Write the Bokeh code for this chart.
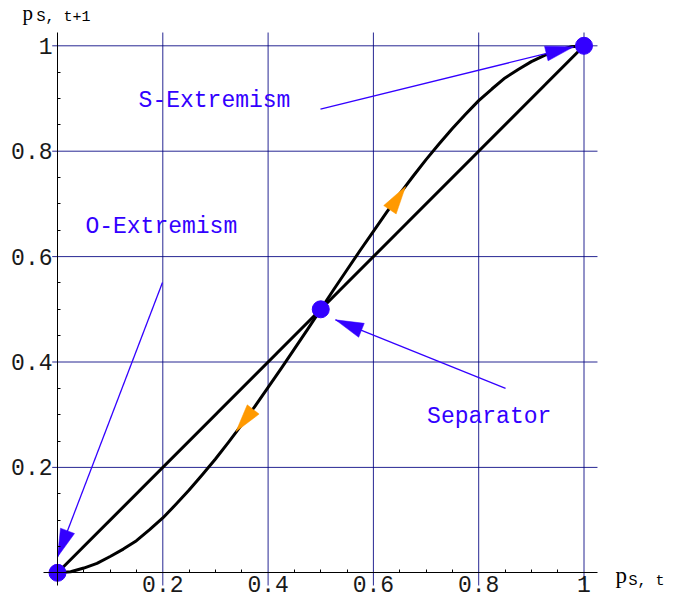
import math
from bokeh.plotting import figure
from bokeh.models import FixedTicker, CustomJSTickFormatter, Label
from bokeh.core.properties import value
from bokeh.embed import file_html
from bokeh.resources import INLINE

# ---------------- data ----------------
p_t = [0.0, 0.025, 0.05, 0.075, 0.1, 0.125, 0.15, 0.175, 0.2, 0.225, 0.25,
       0.275, 0.3, 0.325, 0.35, 0.375, 0.4, 0.425, 0.45, 0.475, 0.5,
       0.525, 0.55, 0.575, 0.6, 0.625, 0.65, 0.675, 0.7, 0.725, 0.75,
       0.775, 0.8, 0.825, 0.85, 0.875, 0.9, 0.925, 0.95, 0.975, 1.0]
p_next = [0.0, 0.002, 0.009, 0.018, 0.031, 0.045, 0.061, 0.082, 0.104, 0.13, 0.157,
          0.186, 0.216, 0.248, 0.281, 0.316, 0.352, 0.388, 0.425, 0.462, 0.5,
          0.538, 0.575, 0.612, 0.648, 0.684, 0.719, 0.752, 0.784, 0.814, 0.843,
          0.87, 0.896, 0.918, 0.939, 0.955, 0.970, 0.982, 0.991, 0.998, 1.0]
diag_x = [0.0, 1.0]
diag_y = [0.0, 1.0]
fixed_x = [0.0, 0.5, 1.0]
fixed_y = [0.0, 0.5, 1.0]

tick_values = [0.2, 0.4, 0.6, 0.8, 1.0]
tick_labels = ["0.2", "0.4", "0.6", "0.8", "1"]
minor_values = [0.05, 0.1, 0.15, 0.25, 0.3, 0.35, 0.45, 0.5, 0.55,
                0.65, 0.7, 0.75, 0.85, 0.9, 0.95]

ann_texts = ["S-Extremism", "O-Extremism", "Separator"]
ann_text_x = [0.154, 0.053, 0.702]
ann_text_y = [0.896, 0.656, 0.295]
ann_tail_x = [0.4995, 0.1994, 0.851]
ann_tail_y = [0.880, 0.551, 0.350]
ann_tip_x = [0.980, 0.0, 0.528]
ann_tip_y = [0.998, 0.030, 0.480]

flow_tail_x = [0.6306, 0.3713]
flow_tail_y = [0.6877, 0.3095]
flow_tip_x = [0.661, 0.339]
flow_tip_y = [0.733, 0.268]

# plot region (axes extent) in data units
PX0, PX1 = -0.0266, 1.0256
PY0, PY1 = -0.0241, 1.0252

# ---------------- figure ----------------
W, H = 699, 603
X0, X1 = -0.10826, 1.21937
Y0, Y1 = -0.05825, 1.08596
BLUE = "#3300ff"
ORANGE = "#ff9900"
GRID = "#000080"
MONO = "Liberation Mono"

p = figure(frame_width=W, frame_height=H, x_range=(X0, X1), y_range=(Y0, Y1),
           output_backend="svg", toolbar_location=None,
           min_border=0, min_border_left=0, min_border_right=0,
           min_border_top=0, min_border_bottom=0,
           outline_line_color=None, background_fill_color="white")

ticker = FixedTicker(ticks=tick_values, minor_ticks=minor_values)
fmt = CustomJSTickFormatter(args=dict(vals=tick_values, labs=tick_labels), code="""
for (let i = 0; i < vals.length; i++) { if (Math.abs(vals[i] - tick) < 1e-9) return labs[i]; }
return "";
""")

for ax in (p.xaxis[0], p.yaxis[0]):
    ax.fixed_location = 0
    ax.ticker = ticker
    ax.formatter = fmt
    ax.major_tick_in = 0
    ax.major_tick_out = 0
    ax.minor_tick_in = 3
    ax.minor_tick_out = 0
    ax.minor_tick_line_color = "black"
    ax.axis_line_color = "black"
    ax.axis_line_width = 1
    ax.major_label_text_font = MONO
    ax.major_label_text_font_size = "23px"
    ax.major_label_text_color = "#1a1a1a"
p.xaxis[0].bounds = (PX0, PX1)
p.yaxis[0].bounds = (PY0, PY1)
p.xaxis[0].major_label_standoff = 3
p.yaxis[0].major_label_standoff = 5

p.xgrid[0].grid_line_color = None
p.ygrid[0].grid_line_color = None

# grid lines limited to the plot region
p.segment(x0=tick_values, y0=[PY0] * len(tick_values), x1=tick_values, y1=[PY1] * len(tick_values),
          line_color=GRID, line_alpha=0.85, line_width=1)
p.segment(x0=[-0.01] * len(tick_values), y0=tick_values, x1=[PX1] * len(tick_values), y1=tick_values,
          line_color=GRID, line_alpha=0.85, line_width=1)

# curves
p.line(diag_x, diag_y, line_color="black", line_width=3)
p.line(p_t, p_next, line_color="black", line_width=3, line_join="round")

# arrowhead helper (geometry in screen pixels, converted back to data units)
SX = W / (X1 - X0)
SY = H / (Y1 - Y0)
HEAD_LEN = 28.0
HEAD_HALF = 7.5


def head(tx, ty, hx, hy):
    dx = (hx - tx) * SX
    dy = (hy - ty) * SY
    n = math.hypot(dx, dy)
    ux, uy = dx / n, dy / n
    bx = hx * SX - ux * HEAD_LEN
    by = hy * SY - uy * HEAD_LEN
    c1x, c1y = bx - uy * HEAD_HALF, by + ux * HEAD_HALF
    c2x, c2y = bx + uy * HEAD_HALF, by - ux * HEAD_HALF
    return [hx, c1x / SX, c2x / SX], [hy, c1y / SY, c2y / SY]


# annotation arrows
p.segment(ann_tail_x, ann_tail_y, ann_tip_x, ann_tip_y, line_color=BLUE, line_width=1.3)
hx_list, hy_list = [], []
for tx, ty, hx, hy in zip(ann_tail_x, ann_tail_y, ann_tip_x, ann_tip_y):
    xs, ys = head(tx, ty, hx, hy)
    hx_list.append(xs)
    hy_list.append(ys)
p.patches(hx_list, hy_list, fill_color=BLUE, line_color=BLUE, line_width=0.5)

# flow direction heads on the S-curve
ox_list, oy_list = [], []
for tx, ty, hx, hy in zip(flow_tail_x, flow_tail_y, flow_tip_x, flow_tip_y):
    xs, ys = head(tx, ty, hx, hy)
    ox_list.append(xs)
    oy_list.append(ys)
p.patches(ox_list, oy_list, fill_color=ORANGE, line_color=ORANGE, line_width=0.5)

# fixed points
p.scatter(fixed_x, fixed_y, size=17, fill_color=BLUE, line_color=BLUE)

# annotation texts
p.text(ann_text_x, ann_text_y, text=ann_texts, text_font=value(MONO),
       text_font_size="23px", text_color=BLUE, text_baseline="alphabetic", text_align="left")

# axis labels
p.add_layout(Label(x=1.0598, y=-0.005, text="p", text_font="Liberation Serif",
                   text_font_size="23px", text_color="black", text_baseline="alphabetic"))
p.add_layout(Label(x=1.0845, y=-0.0165, text="S, t", text_font=MONO,
                   text_font_size="15px", text_color="black", text_baseline="alphabetic"))
p.add_layout(Label(x=-0.0665, y=1.0855, text="p", text_font="Liberation Serif",
                   text_font_size="21px", text_color="black", text_baseline="top"))
p.add_layout(Label(x=-0.0399, y=1.0704, text="S, t+1", text_font=MONO,
                   text_font_size="15px", text_color="black", text_baseline="top"))

open("out.html", "w").write(file_html(p, INLINE))
